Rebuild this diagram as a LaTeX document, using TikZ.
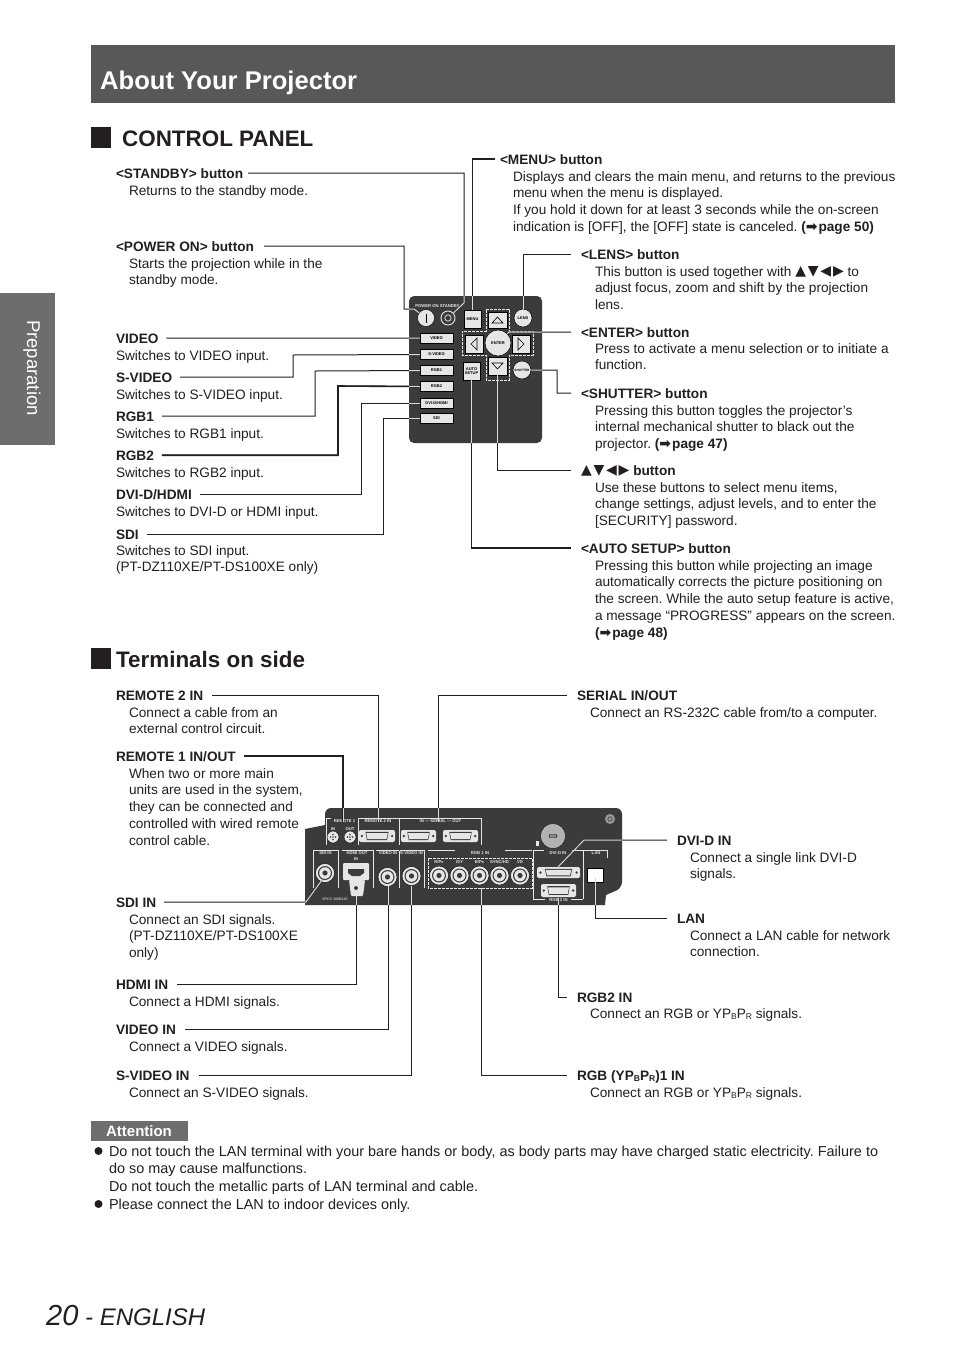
\documentclass[tikz,border=0pt]{standalone}
\usepackage{fontspec}
\setmainfont{Liberation Sans}
\newfontfamily\djv{DejaVu Sans}
\definecolor{ink}{HTML}{231F20}
\definecolor{bar}{HTML}{58585A}
\definecolor{side}{HTML}{6E6D6D}
\definecolor{att}{HTML}{6D6E70}
\definecolor{pan}{HTML}{3B3B3B}
\definecolor{lite}{HTML}{E6E6E6}
\tikzset{
 txt/.style={inner sep=0pt,outer sep=0pt,text=ink,font=\frenchspacing\fontsize{13.65}{16.9}\selectfont},
 lab/.style={txt,anchor=base west,font=\frenchspacing\fontsize{13.65}{16.9}\selectfont\bfseries},
 bodytxt/.style={txt,anchor=north west,align=left},
 ln/.style={draw=ink,line width=1pt},
 lnb/.style={draw=ink,line width=1.6pt},
 wl/.style={draw=white!85!black,line width=1pt},
 keyb/.style={draw=black,line width=.5pt,fill=lite,inner sep=0pt,text=black,font=\fontsize{4}{4.4}\selectfont\bfseries},
 tiny/.style={inner sep=0pt,text=lite,font=\fontsize{4.2}{4.4}\selectfont\bfseries},
 brk/.style={draw=lite,line width=.6pt},
}
\newcommand\lbl[5][8]{\node[lab] (#2) at (#3,#4+5) {#5};
 \coordinate (#2-e) at ([xshift=#1pt,yshift=4.8pt]#2.base east);
 \coordinate (#2-w) at ([xshift=-#1pt,yshift=4.8pt]#2.base west);}
\newcommand\bdy[4]{\node[bodytxt] (#1) at (#2,#3+5-12) {\rule{0pt}{12pt}#4};}
\newcommand\arr{{\djv\fontsize{14}{12}\selectfont ➡}\hspace{1pt}}
\newcommand\tris{\raisebox{.5pt}{\djv\fontsize{14}{12}\selectfont ▲\hspace{1.8pt}▼\hspace{1.8pt}◀\hspace{1.8pt}▶}}
\newcommand\sbb[1]{\raisebox{-1.6pt}{\fontsize{8.5}{8.5}\selectfont #1}}
\newcommand\bnc[3]{\node[circle,fill=lite,draw=black,line width=.4pt,minimum size=19pt,inner sep=0pt] (#1) at (#2,#3) {};
 \fill[pan] (#2,#3) circle[radius=7];\fill[lite] (#2,#3) circle[radius=5.8];\fill[pan] (#2,#3) circle[radius=2.6];}
\newcommand\dsub[5]{\node[rounded corners=2pt,fill=lite,minimum width=#4pt,minimum height=#5pt,inner sep=0pt] (#1) at (#2,#3) {};
 \fill[pan] (#2-#4*.32,#3-#5*.34) -- (#2+#4*.32,#3-#5*.34) -- (#2+#4*.28,#3+#5*.34) -- (#2-#4*.28,#3+#5*.34) -- cycle;
 \fill[lite] (#2-#4*.30,#3-#5*.25) -- (#2+#4*.30,#3-#5*.25) -- (#2+#4*.265,#3+#5*.25) -- (#2-#4*.265,#3+#5*.25) -- cycle;
 \fill[pan] (#2-#4*.42,#3) circle[radius=1.3];\fill[pan] (#2+#4*.42,#3) circle[radius=1.3];}
\newcommand\cpath{(409,296) [rounded corners=5pt] -- (542,296) -- (542,443) -- (409,443) -- cycle}
\newcommand\tpath{[rounded corners=6pt] (325,825) -- (325,808) -- (622,808) -- (622,888) [sharp corners] -- (606,895) -- (605,905) -- (305,905) -- (305,829) -- cycle}
\newcommand\cconn[1]{%
 \draw[#1] (lstandby-e) -| (464,303) -- (bstandby);
 \draw[#1] (lpower-e) -| (404,309) -- (414,309) -- (bpower);
 \draw[#1] (llens-w) -| (blens);
 \draw[#1] (lenter-w) -- (509,332) -- (benter);
 \draw[#1] (lshutter-w) -- (557,393) |- (bshutter);
 \draw[#1] (lcursor-w) -| (bdown);
 \draw[#1] (lvideo-e) -- (bvideo.west);
 \draw[#1] (lsvideo-e) -| (293,355) -- (bsvideo.west);
 \draw[#1] (lsdi-e) -| (383,418) -- (bsdi.west);
 \draw[#1] (ldvi-e) -| (361,403) -- (bdvi.west);
 \draw[#1] (lrgba-e) -| (315,371) -- (brgba.west);
 \draw[#1] (lrgbb-e) -| (338,386) -- (brgbb.west);
 \draw[#1] (lmenu-w) -| (bmenu);
 \draw[#1] (lauto-w) -| (bauto);
}
\newcommand\tconn[1]{%
 \draw[#1] (lrem2-e) -| (t2);
 \draw[#1] (lrem1-e) -| (t1);
 \draw[#1] (lserial-w) -| (tser);
 \draw[#1] (lsdiin-e) -- (306,902) -- (tsdi);
 \draw[#1] (lhdmi-e) -| (thdmi);
 \draw[#1] (lvidin-e) -| (tvid);
 \draw[#1] (lsvin-e) -| (tsv);
 \draw[#1] (lrgbone-w) -| (trgb1);
 \draw[#1] (lrgbtwo-w) -| (trgb2);
 \draw[#1] (ldvid-w) -- (584,840) -- (tdvi);
 \draw[#1] (llan-w) -| (tlan);
}
\begin{document}
\begin{tikzpicture}[x=1pt,y=-1pt]
\useasboundingbox (0,0) rectangle (954,1350);
\fill[white] (0,0) rectangle (954,1350);
% header
\node[fill=bar,minimum width=804pt,minimum height=58pt,inner sep=0pt,anchor=north west] (hdr) at (91,45) {};
\node[anchor=base west,inner sep=0pt,text=white,font=\fontsize{25.6}{28}\selectfont\bfseries] (title) at (100,89) {About Your Projector};
\node[fill=side,minimum width=55pt,minimum height=152pt,inner sep=0pt,anchor=north west] (sidetab) at (0,293) {};
\node[rotate=-90,inner sep=0pt,text=white,font=\fontsize{18.5}{20}\selectfont] (prep) at (32,368) {Preparation};
\node[fill=ink,minimum width=20pt,minimum height=21pt,inner sep=0pt,anchor=north west] (sq1) at (91,127) {};
\node[anchor=base west,inner sep=0pt,text=ink,font=\fontsize{22.4}{26}\selectfont\bfseries] (h1) at (122,146) {CONTROL PANEL};
\node[fill=ink,minimum width=20pt,minimum height=21pt,inner sep=0pt,anchor=north west] (sq2) at (91,648) {};
\node[anchor=base west,inner sep=0pt,text=ink,font=\fontsize{22.4}{26}\selectfont\bfseries] (h2) at (116,667) {Terminals on side};

% control panel
\fill[pan] \cpath;
\draw[lite,line width=.7pt,dash pattern=on 3pt off 1pt] (486,309) -- (509,309) -- (509,331) -- (533,331) -- (533,355) -- (509,355) -- (509,380) -- (486,380) -- (486,355) -- (462,355) -- (462,331) -- (486,331) -- cycle;
\node[tiny,anchor=center] (pstxt) at (437.5,306) {POWER ON  STANDBY};
\node[circle,fill=lite,draw=black,line width=.4pt,minimum size=17pt,inner sep=0pt] (bpower) at (426,318) {};
\draw[black,line width=1pt] (426,313.5) -- (426,322.5);
\node[circle,fill=pan,draw=lite,line width=.9pt,minimum size=14pt,inner sep=0pt] (bstandby) at (448,318) {};
\draw[lite,line width=.7pt] (448,318) circle[radius=3.2];
\node[keyb,minimum width=17pt,minimum height=18pt] (bmenu) at (472.5,319) {MENU};
\node[keyb,circle,minimum size=18pt] (blens) at (523,318) {LENS};
\node[keyb,minimum width=19pt,minimum height=16pt] (bup) at (497.5,320) {};
\draw[black,fill=lite,line width=.6pt] (492,323) -- (503,323) -- (497.5,317) -- cycle;
\node[keyb,minimum width=19pt,minimum height=18pt] (bdown) at (497.5,366) {};
\draw[black,fill=lite,line width=.6pt] (492,363) -- (503,363) -- (497.5,369) -- cycle;
\node[keyb,minimum width=18pt,minimum height=18pt] (bleft) at (474,344) {};
\draw[black,fill=lite,line width=.6pt] (477,338) -- (477,350) -- (471,344) -- cycle;
\node[keyb,minimum width=18pt,minimum height=18pt] (bright) at (521,344) {};
\draw[black,fill=lite,line width=.6pt] (518,338) -- (518,350) -- (524,344) -- cycle;
\node[keyb,circle,minimum size=26pt] (benter) at (498,343) {ENTER};
\node[keyb,minimum width=17pt,minimum height=18pt,align=center] (bauto) at (471.5,371) {AUTO\\SETUP};
\node[keyb,circle,minimum size=18pt] (bshutter) at (522,370) {\fontsize{3.2}{3.2}\selectfont SHUTTER};
\foreach \n/\yy/\t in {bvideo/338/VIDEO,bsvideo/354.5/S-VIDEO,brgba/370.5/RGB1,brgbb/386.5/RGB2,bdvi/403/{DVI-D/HDMI},bsdi/418/SDI}{
 \node[keyb,minimum width=33pt,minimum height=10pt] (\n) at (436.5,\yy) {\t};}

% control panel labels
\lbl[5]{lstandby}{116}{173}{<STANDBY> button}
\bdy{dstandby}{129}{190}{Returns to the standby mode.}
\lbl[10]{lpower}{116}{246}{<POWER ON> button}
\bdy{dpower}{129}{263}{Starts the projection while in the\\standby mode.}
\lbl{lvideo}{116}{338}{VIDEO}
\bdy{dvideo}{116}{355}{Switches to VIDEO input.}
\lbl{lsvideo}{116}{377}{S-VIDEO}
\bdy{dsvideo}{116}{394}{Switches to S-VIDEO input.}
\lbl{lrgba}{116}{416}{RGB1}
\bdy{drgba}{116}{433}{Switches to RGB1 input.}
\lbl{lrgbb}{116}{455}{RGB2}
\bdy{drgbb}{116}{472}{Switches to RGB2 input.}
\lbl{ldvi}{116}{494}{DVI-D/HDMI}
\bdy{ddvi}{116}{511}{Switches to DVI-D or HDMI input.}
\lbl{lsdi}{116}{534}{SDI}
\bdy{dsdi}{116}{550}{Switches to SDI input.\\(PT-DZ110XE/PT-DS100XE only)}
\lbl[5]{lmenu}{500}{159}{<MENU> button}
\bdy{dmenu}{513}{176}{Displays and clears the main menu, and returns to the previous\\menu when the menu is displayed.\\If you hold it down for at least 3 seconds while the on-screen\\indication is [OFF], the [OFF] state is canceled. {\bfseries(\arr page 50)}}
\lbl[10]{llens}{581}{254}{<LENS> button}
\bdy{dlens}{595}{271}{This button is used together with \tris{} to\\adjust focus, zoom and shift by the projection\\lens.}
\lbl[10]{lenter}{581}{332}{<ENTER> button}
\bdy{denter}{595}{348}{Press to activate a menu selection or to initiate a\\function.}
\lbl[10]{lshutter}{581}{393}{<SHUTTER> button}
\bdy{dshutter}{595}{410}{Pressing this button toggles the projector’s\\internal mechanical shutter to black out the\\projector. {\bfseries(\arr page 47)}}
\lbl[10]{lcursor}{581}{470}{\tris{} button}
\bdy{dcursor}{595}{487}{Use these buttons to select menu items,\\change settings, adjust levels, and to enter the\\{[SECURITY]} password.}
\lbl[10]{lauto}{581}{548}{<AUTO SETUP> button}
\bdy{dauto}{595}{565}{Pressing this button while projecting an image\\automatically corrects the picture positioning on\\the screen. While the auto setup feature is active,\\a message “PROGRESS” appears on the screen.\\{\bfseries(\arr page 48)}}

\cconn{ln}
\draw[lnb] (lmenu-w) -| (bmenu);
\draw[lnb] (lauto-w) -| (bauto);
\draw[lnb] (lrgbb-e) -| (338,386) -- (brgbb.west);
\begin{scope}
\clip \cpath;
\cconn{wl}
\end{scope}
\node[keyb,minimum width=17pt,minimum height=18pt] (bmenub) at (472.5,319) {MENU};

% terminals panel
\fill[pan] \tpath;
\coordinate (t1) at (343,822);\coordinate (t2) at (378,822);\coordinate (tser) at (438,822);
\node[tiny] (tr1) at (344.5,821) {REMOTE 1};
\node[tiny] (tr2) at (378,821) {REMOTE 2 IN};
\node[tiny] (tse) at (440.5,821) {IN — SERIAL — OUT};
\draw[brk] (331,818.5) -- (326,818.5) -- (326,845);
\draw[brk] (358,818.5) -- (358,845);
\draw[brk] (358,818.5) -- (399,818.5) -- (399,845);
\draw[brk] (400,818.5) -- (481,818.5) -- (481,845);
\node[tiny] (trin) at (333,829) {IN};
\node[tiny] (trout) at (350,829) {OUT};
\foreach \xx/\n in {333/ca,350/cb}{
 \node[circle,fill=lite,draw=black,line width=.4pt,minimum size=12pt,inner sep=0pt] (\n) at (\xx,837) {};
 \foreach \dx/\dy in {0/-2.5,0/2.5,-2.5/0,2.5/0,0/0}{\fill[pan] (\xx+\dx,837+\dy) circle[radius=.8];}}
\dsub{da}{377}{836}{36}{12}
\dsub{db}{418.5}{836}{35}{12}
\dsub{dc}{460.5}{836}{35}{12}
% lower row
\draw[brk] (313,888) -- (313,850.5) -- (338,850.5) -- (338,888);
\draw[brk] (342,850.5) -- (373,850.5) -- (373,888);
\draw[brk] (376,850.5) -- (399,850.5);\draw[brk] (400,850.5) -- (424,850.5) -- (424,888);\draw[brk] (399,850.5) -- (399,888);
\node[tiny] (tsd) at (325.5,853.5) {SDI IN};
\node[tiny] (thd) at (357,853.5) {HDMI OUT};
\node[tiny] (tvi) at (388,853.5) {VIDEO IN};
\node[tiny] (tsv2) at (411.5,853.5) {S-VIDEO IN};
\node[tiny] (thin) at (356,859.5) {IN};
\bnc{csdi}{325}{873}
\fill[lite,rounded corners=1pt] (343,863) rectangle (369,880);
\fill[lite,rounded corners=1pt] (349,880) -- (365,880) -- (363,896) -- (351,896) -- cycle;
\fill[pan] (348,869) -- (364,869) -- (364,873) -- (360,876) -- (352,876) -- (348,873) -- cycle;
\fill[pan] (356,888) circle[radius=2];
\coordinate (thdmi) at (356,896);
\bnc{cvid}{387.5}{877}
\bnc{csv}{411.5}{876}
\coordinate (tsdi) at (322,880);
\coordinate (tvid) at (388,886);\coordinate (tsv) at (411,886);
\coordinate (trgb1) at (481,888);\coordinate (trgb2) at (558,898);\coordinate (tlan) at (595,878);\coordinate (tdvi) at (558,867);
\draw[brk] (428,850.5) -- (532,850.5);
\fill[pan] (455,849) rectangle (505,856);
\node[tiny] (trg) at (480,853.5) {RGB 1 IN};
\draw[lite,line width=.7pt,dash pattern=on 3pt off 1pt] (428,858) rectangle (532,888);
\foreach \xx/\t/\n in {439/R{/}P{\fontsize{3}{3}\selectfont R}/ra,459.5/G{/}Y/rb,479.5/B{/}P{\fontsize{3}{3}\selectfont B}/rc,499.5/SYNC{/}HD/rd,520/VD/re}{
 \node[tiny] (\n t) at (\xx,862.5) {\t};
 \bnc{\n}{\xx}{875.5}}
% knob and screw
\node[circle,fill=white!70!black,draw=black,line width=.3pt,minimum size=25pt,inner sep=0pt] (knob) at (553,836) {};
\draw[black,fill=white!55!black,rounded corners=1pt] (549,834.5) rectangle (557,837.5);
\fill[lite] (535.5,841) rectangle (539,846);
\node[circle,fill=white!60!black,minimum size=10pt,inner sep=0pt] (screw) at (610,819) {};
\draw[pan,line width=.6pt] (610,819) circle[radius=2.2];
% right block
\draw[brk] (533,899) -- (533,850.5) -- (583,850.5) -- (583,899);
\fill[pan] (544,849) rectangle (572,856);
\node[tiny] (tdv) at (558,853.5) {DVI-D IN};
\draw[brk] (533,899) -- (545,899);\draw[brk] (571,899) -- (583,899);
\node[tiny] (trb) at (558.5,900) {RGB 2 IN};
\draw[brk] (584,850.5) -- (607,850.5) -- (607,858);
\node[tiny] (tla) at (596,853.5) {LAN};
\dsub{ddv}{558.5}{872.5}{43}{11}
\dsub{drb}{558.5}{890.5}{35}{13}
\node[fill=white,draw=black,line width=1pt,minimum width=16pt,minimum height=14pt,inner sep=0pt] (jack) at (595.5,875) {};
\node[tiny,font=\fontsize{3.6}{4}\selectfont\bfseries,text=white!75!black] (tno) at (335,899) {XPCX 100B120};

\lbl[9]{lrem2}{116}{695}{REMOTE 2 IN}
\bdy{drem2}{129}{712}{Connect a cable from an\\external control circuit.}
\lbl[8]{lrem1}{116}{756}{REMOTE 1 IN/OUT}
\bdy{drem1}{129}{773}{When two or more main\\units are used in the system,\\they can be connected and\\controlled with wired remote\\control cable.}
\lbl[8]{lsdiin}{116}{902}{SDI IN}
\bdy{dsdiin}{129}{919}{Connect an SDI signals.\\(PT-DZ110XE/PT-DS100XE\\only)}
\lbl[9]{lhdmi}{116}{984}{HDMI IN}
\bdy{dhdmi}{129}{1001}{Connect a HDMI signals.}
\lbl[9]{lvidin}{116}{1029}{VIDEO IN}
\bdy{dvidin}{129}{1046}{Connect a VIDEO signals.}
\lbl[9]{lsvin}{116}{1075}{S-VIDEO IN}
\bdy{dsvin}{129}{1092}{Connect an S-VIDEO signals.}
\lbl[10]{lserial}{577}{695}{SERIAL IN/OUT}
\bdy{dserial}{590}{712}{Connect an RS-232C cable from/to a computer.}
\lbl[10]{ldvid}{677}{840}{DVI-D IN}
\bdy{ddvid}{690}{857}{Connect a single link DVI-D\\signals.}
\lbl[10]{llan}{677}{918}{LAN}
\bdy{dlan}{690}{935}{Connect a LAN cable for network\\connection.}
\lbl[10]{lrgbtwo}{577}{997}{RGB2 IN}
\bdy{drgbtwo}{590}{1013}{Connect an RGB or YP\sbb{B}P\sbb{R} signals.}
\lbl[10]{lrgbone}{577}{1075}{RGB (YP\sbb{B}P\sbb{R})1 IN}
\bdy{drgbone}{590}{1092}{Connect an RGB or YP\sbb{B}P\sbb{R} signals.}

\tconn{ln}
\draw[lnb] (lrem1-e) -| (t1);
\begin{scope}
\clip \tpath;
\tconn{wl}
\end{scope}

% attention
\node[fill=att,minimum width=97pt,minimum height=20pt,inner sep=0pt,anchor=north west] (attbox) at (91,1121) {};
\node[inner sep=0pt,text=white,font=\fontsize{15}{16}\selectfont\bfseries] (atttxt) at (139,1131) {Attention};
\node[circle,fill=ink,minimum size=8pt,inner sep=0pt] (bu1) at (98.5,1151) {};
\node[circle,fill=ink,minimum size=8pt,inner sep=0pt] (bu2) at (98.5,1204) {};
\node[txt,anchor=north west,align=left,font=\frenchspacing\fontsize{14.44}{17.7}\selectfont] (atxt) at (109,1144) {\rule{0pt}{12pt}Do not touch the LAN terminal with your bare hands or body, as body parts may have charged static electricity. Failure to\\do so may cause malfunctions.\\Do not touch the metallic parts of LAN terminal and cable.\\Please connect the LAN to indoor devices only.};
% footer
\node[anchor=base west,inner sep=0pt,text=ink,font=\fontsize{29}{30}\selectfont\itshape] (pnum) at (46,1325) {20};
\node[anchor=base west,inner sep=0pt,text=ink,font=\fontsize{24}{26}\selectfont\itshape] (eng) at (85,1325) {- ENGLISH};
\end{tikzpicture}
\end{document}
